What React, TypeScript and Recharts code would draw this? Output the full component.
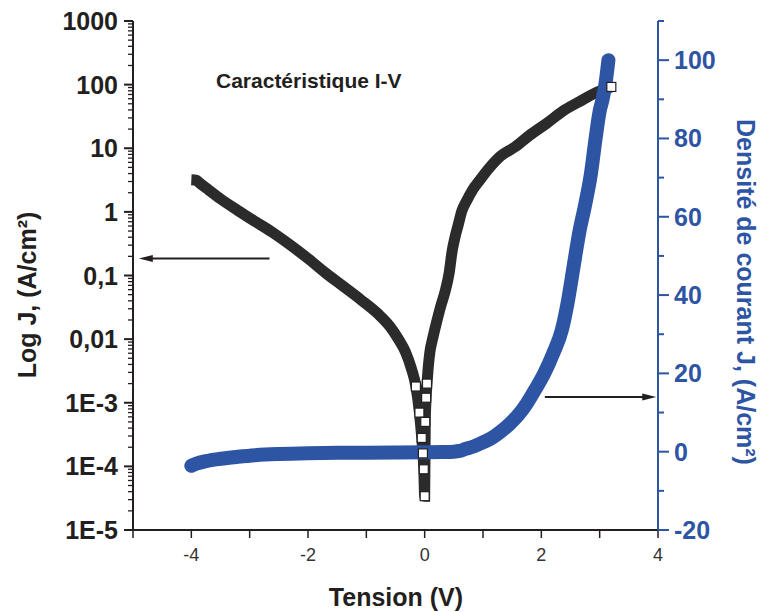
import React from "react";
import { ComposedChart, Line, XAxis, YAxis, ReferenceLine } from "recharts";

document.body.style.margin = "0";

// Log J (left axis), black squares
const logVoltage = [
  -4.0, -3.92, -3.85, -3.7, -3.5, -3.2, -2.9, -2.6, -2.3, -2.0, -1.7, -1.4, -1.1, -0.8, -0.6,
  -0.45, -0.33, -0.23, -0.15, -0.09, -0.05, -0.03, -0.015, 0, 0.01, 0.025, 0.04, 0.06, 0.09,
  0.14, 0.2, 0.27, 0.35, 0.42, 0.47, 0.52, 0.57, 0.64, 0.72, 0.82, 0.95, 1.1, 1.3, 1.55, 1.8,
  2.1, 2.4, 2.7, 2.95, 3.1, 3.2,
];
const logCurrent = [
  3.2, 3.15, 2.8, 2.2, 1.6, 1.05, 0.7, 0.47, 0.3, 0.185, 0.11, 0.068, 0.042, 0.025, 0.016,
  0.01, 0.0063, 0.0035, 0.0018, 0.0007, 0.00028, 0.00016, 0.00009, 0.000034, 0.0005, 0.0012,
  0.002, 0.0035, 0.0063, 0.0105, 0.0178, 0.0316, 0.056, 0.11, 0.24, 0.4, 0.6, 1.05, 1.5, 2.2,
  3.2, 4.8, 7.5, 10.5, 16, 25, 40, 57, 76, 85, 92,
];

// linear J (right axis), blue circles
const linVoltage = [
  -4.0, -3.9, -3.75, -3.5, -3.2, -2.9, -2.5, -2.0, -1.5, -1.0, -0.5, 0, 0.3, 0.5, 0.6, 0.7,
  0.85, 1.0, 1.15, 1.3, 1.45, 1.6, 1.75, 1.9, 2.05, 2.2, 2.35, 2.45, 2.55, 2.65, 2.75, 2.85,
  2.93, 3.0, 3.05, 3.1, 3.15,
];
const linCurrent = [
  -3.6, -3.0, -2.4, -1.8, -1.3, -0.9, -0.6, -0.4, -0.3, -0.25, -0.2, -0.15, -0.1, 0, 0.2, 0.7,
  1.4, 2.4, 3.5, 5.1, 7, 9.3, 12.3, 16, 20, 25, 31, 38, 47, 56, 63, 71, 80, 87, 90, 94, 100,
];

const logDecades = [1e-5, 1e-4, 1e-3, 0.01, 0.1, 1, 10, 100, 1000];
const logLabels = ["1E-5", "1E-4", "1E-3", "0,01", "0,1", "1", "10", "100", "1000"];
const rightTicks = [-20, -10, 0, 10, 20, 30, 40, 50, 60, 70, 80, 90, 100, 110];
const xTicks = [-5, -4, -3, -2, -1, 0, 1, 2, 3, 4];

const logData = logVoltage.map((v, i) => ({ v, j: logCurrent[i] }));
const linData = linVoltage.map((v, i) => ({ v, j: linCurrent[i] }));

const logTicks: number[] = [];
logDecades.forEach((d, i) => {
  logTicks.push(d);
  if (i < logDecades.length - 1) {
    for (let k = 2; k <= 9; k++) logTicks.push(d * k);
  }
});

const BLUE = "#2E54A4";
const DARK = "#231f20";
const FONT = "'Liberation Sans', Arial, sans-serif";

function LeftTick({ x, y, payload }: any) {
  const idx = logDecades.indexOf(payload.value);
  const major = idx >= 0;
  return (
    <g>
      <line x1={x - (major ? 9 : 5)} x2={x} y1={y} y2={y} stroke={DARK} strokeWidth={major ? 2 : 1.3} />
      {major && (
        <text x={x - 15} y={y} dy="0.36em" textAnchor="end" fontSize={25} fontWeight="bold" fill={DARK} fontFamily={FONT}>
          {logLabels[idx]}
        </text>
      )}
    </g>
  );
}

function RightTick({ x, y, payload }: any) {
  const major = payload.value % 20 === 0;
  return (
    <g>
      <line x1={x} x2={x + (major ? 11 : 6)} y1={y} y2={y} stroke={BLUE} strokeWidth={2} />
      {major && (
        <text x={x + 16} y={y} dy="0.36em" textAnchor="start" fontSize={25} fontWeight="bold" fill={BLUE} fontFamily={FONT}>
          {payload.value}
        </text>
      )}
    </g>
  );
}

function SquareDot(props: any) {
  const { cx, cy, payload, index } = props;
  if (cx == null || cy == null) return null;
  const show = payload.j < 0.003 || index === logData.length - 1;
  if (!show) return <g key={index} />;
  return <rect key={index} x={cx - 4.5} y={cy - 4.5} width={9} height={9} fill="#fff" stroke={DARK} strokeWidth={1.2} />;
}

function Arrow({ x1, y1, x2, y2, left }: any) {
  const dir = left ? 1 : -1;
  return (
    <g>
      <line x1={x1} y1={y1} x2={x2 + dir * 8} y2={y2} stroke={DARK} strokeWidth={2} />
      <path d={`M${x2},${y2} L${x2 + dir * 14},${y2 - 3.5} L${x2 + dir * 14},${y2 + 3.5} Z`} fill={DARK} />
    </g>
  );
}

export default function App() {
  return (
    <ComposedChart width={763} height={612} margin={{ top: 21, right: 0, bottom: 0, left: 0 }}>
      <XAxis
        xAxisId="bottom"
        dataKey="v"
        type="number"
        domain={[-5, 4]}
        ticks={xTicks}
        allowDataOverflow
        height={82}
        tickSize={8}
        tickMargin={10}
        tickFormatter={(t: number) => (t % 2 === 0 ? String(t) : "")}
        tick={{ fontSize: 18, fill: "#333", fontFamily: FONT }}
        axisLine={{ stroke: DARK, strokeWidth: 2 }}
        tickLine={{ stroke: DARK, strokeWidth: 1.5 }}
      />
      <XAxis
        xAxisId="top"
        orientation="top"
        dataKey="v"
        type="number"
        domain={[-5, 4]}
        ticks={xTicks}
        allowDataOverflow
        height={0}
        mirror
        tickSize={9}
        tick={false}
        axisLine={{ stroke: DARK, strokeWidth: 2 }}
        tickLine={{ stroke: DARK, strokeWidth: 1.5 }}
      />
      <YAxis
        yAxisId="left"
        scale="log"
        domain={[1e-5, 1000]}
        ticks={logTicks}
        allowDataOverflow
        width={133}
        tickSize={0}
        tickMargin={0}
        tickLine={false}
        tick={<LeftTick />}
        interval={0}
        axisLine={{ stroke: DARK, strokeWidth: 2 }}
      />
      <YAxis
        yAxisId="right"
        orientation="right"
        domain={[-20, 110]}
        ticks={rightTicks}
        allowDataOverflow
        width={105}
        tickSize={0}
        tickMargin={0}
        tickLine={false}
        tick={<RightTick />}
        interval={0}
        axisLine={{ stroke: BLUE, strokeWidth: 2 }}
      />
      <Line
        xAxisId="bottom"
        yAxisId="left"
        data={logData}
        dataKey="j"
        type="monotone"
        stroke="#2b2b2b"
        strokeWidth={11}
        dot={<SquareDot />}
        activeDot={false}
        isAnimationActive={false}
      />
      <Line
        xAxisId="bottom"
        yAxisId="right"
        data={linData}
        dataKey="j"
        type="monotone"
        stroke={BLUE}
        strokeWidth={14}
        strokeLinecap="round"
        strokeLinejoin="round"
        dot={false}
        activeDot={false}
        isAnimationActive={false}
      />
      <ReferenceLine
        xAxisId="bottom"
        yAxisId="left"
        segment={[{ x: -2.66, y: 0.185 }, { x: -4.9, y: 0.185 }]}
        shape={(p: any) => <Arrow {...p} left />}
      />
      <ReferenceLine
        xAxisId="bottom"
        yAxisId="right"
        segment={[{ x: 2.06, y: 14 }, { x: 3.97, y: 14 }]}
        shape={(p: any) => <Arrow {...p} />}
      />
      <text x={216} y={88} fontSize={21} fontWeight="bold" fill={DARK} fontFamily={FONT}>
        Caractéristique I-V
      </text>
      <text
        x={36}
        y={295}
        transform="rotate(-90 36 295)"
        textAnchor="middle"
        fontSize={25}
        fontWeight="bold"
        fill={DARK}
        fontFamily={FONT}
      >
        Log J, (A/cm²)
      </text>
      <text
        x={737}
        y={292}
        transform="rotate(90 737 292)"
        textAnchor="middle"
        fontSize={25}
        fontWeight="bold"
        fill={BLUE}
        fontFamily={FONT}
      >
        Densité de courant J, (A/cm²)
      </text>
      <text x={396} y={606} textAnchor="middle" fontSize={25} fontWeight="bold" fill={DARK} fontFamily={FONT}>
        Tension (V)
      </text>
    </ComposedChart>
  );
}
